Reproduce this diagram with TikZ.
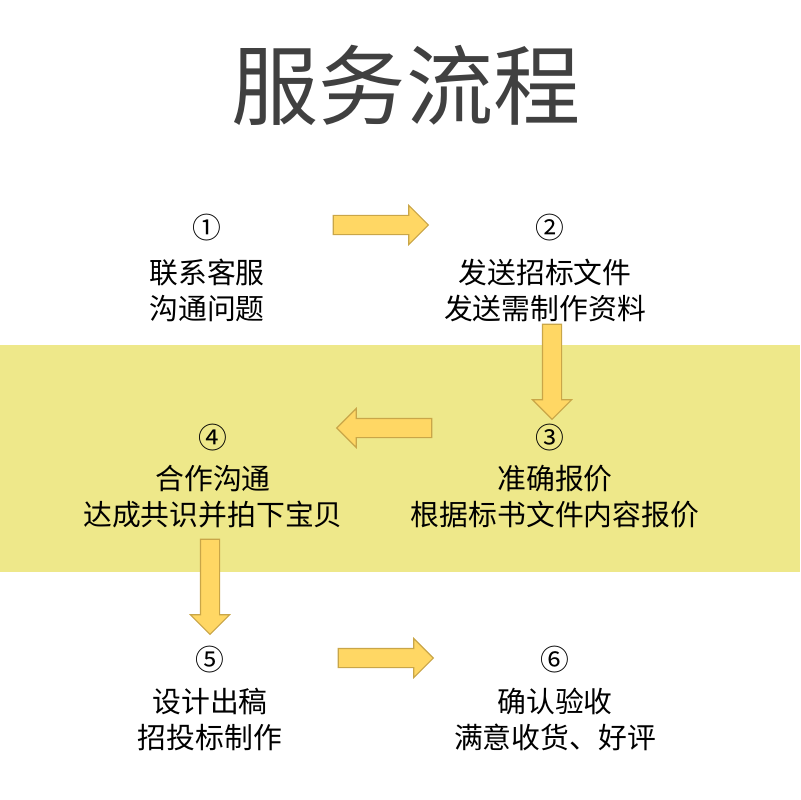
\documentclass[tikz,border=0pt]{standalone}
\usepackage{fontspec}
\setmainfont{Noto Sans CJK SC}
\usepackage{tikz}
\definecolor{bandyellow}{RGB}{238,232,138}
\definecolor{arrowfill}{RGB}{255,215,100}
\definecolor{arrowline}{RGB}{201,166,72}
\definecolor{titlegray}{RGB}{64,64,64}
\usetikzlibrary{shapes.arrows}

\begin{document}
\begin{tikzpicture}[x=0.025cm, y=-0.025cm,
	stepnum/.style={font=\fontsize{20.5}{24}\selectfont, inner sep=0pt},
	steptext/.style={align=center, font=\fontsize{20.5}{25.6}\selectfont, inner sep=0pt},
	flow/.style={single arrow, draw=arrowline, fill=arrowfill, line width=0.8pt, inner sep=0.225cm,
		minimum width=0.95cm, minimum height=2.375cm, single arrow head extend=0.25cm}]
			\useasboundingbox[fill=white] (0,0) rectangle (800,800);
			\fill[bandyellow] (0,345) rectangle (800,572);
			
			\node[font=\fontsize{62}{70}\selectfont, text=titlegray] (title) at (406,85) {服务流程};
			
			\node[stepnum] (n1) at (207,228) {①};
			\node[steptext] (t1) at (207,290) {联系客服\\沟通问题};
			\node[stepnum] (n2) at (550,228) {②};
			\node[steptext] (t2) at (545,290) {发送招标文件\\发送需制作资料};
			\node[stepnum] (n3) at (550,438) {③};
			\node[steptext] (t3) at (555,497) {准确报价\\根据标书文件内容报价};
			\node[stepnum] (n4) at (213,438) {④};
			\node[steptext] (t4) at (213,497) {合作沟通\\达成共识并拍下宝贝};
			\node[stepnum] (n5) at (210,660) {⑤};
			\node[steptext] (t5) at (210,719) {设计出稿\\招投标制作};
			\node[stepnum] (n6) at (555,660) {⑥};
			\node[steptext] (t6) at (555,719) {确认验收\\满意收货、好评};
			
			\node[flow] (a12) at (376,225) {};
			\node[flow, shape border rotate=270] (a23) at (552,367) {};
			\node[flow, shape border rotate=180] (a34) at (389,428) {};
			\node[flow, shape border rotate=270] (a45) at (210,582) {};
			\node[flow] (a56) at (381,658) {};
			
			\end{tikzpicture}
\end{document}
